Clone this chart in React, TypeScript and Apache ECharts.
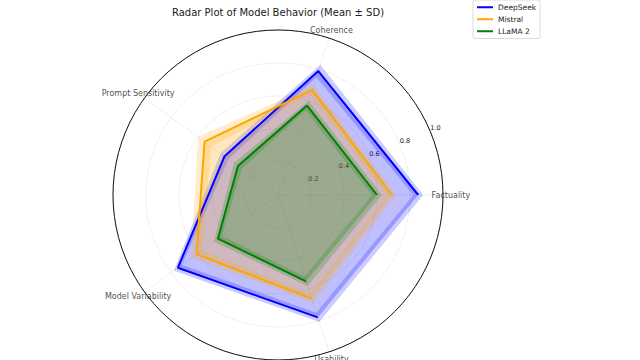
import React, { useEffect, useRef } from 'react';
import * as echarts from 'echarts';

const categories = ['Factuality', 'Coherence', 'Prompt Sensitivity', 'Model Variability', 'Usability'];
const modelNames = ['DeepSeek', 'Mistral', 'LLaMA 2'];
const deepseekMean = [0.85, 0.79, 0.40, 0.75, 0.78];
const deepseekSD = [0.03, 0.04, 0.03, 0.03, 0.03];
const mistralMean = [0.69, 0.67, 0.55, 0.61, 0.66];
const mistralSD = [0.03, 0.03, 0.05, 0.04, 0.03];
const llamaMean = [0.60, 0.57, 0.30, 0.45, 0.55];
const llamaSD = [0.03, 0.03, 0.03, 0.03, 0.03];
const radialTicks = [0.2, 0.4, 0.6, 0.8, 1.0];

const FONT = 'DejaVu Sans';
const colors = ['#0000ff', '#ffa500', '#008000'];
const rgb = ['0,0,255', '255,165,0', '0,128,0'];
const LABEL_R = 1.048;

export default function App() {
  const ref = useRef<HTMLDivElement>(null);
  useEffect(() => {
    if (!ref.current) return;
    const chart = echarts.init(ref.current, undefined, { renderer: 'svg' });
    const means = [deepseekMean, mistralMean, llamaMean];
    const sds = [deepseekSD, mistralSD, llamaSD];
    const series: any[] = [];
    means.forEach((mean, k) => {
      const sd = sds[k];
      series.push({
        type: 'custom', name: modelNames[k] + ' mean area', coordinateSystem: 'polar', polarIndex: 0,
        silent: true, z: 1, data: [[0, 0]],
        renderItem: (_p: any, api: any) => {
          const pts = mean.map((v, i) => api.coord([v, i]));
          return { type: 'polygon', shape: { points: pts }, style: { fill: `rgba(${rgb[k]},0.25)` } };
        },
      });
      series.push({
        type: 'custom', name: modelNames[k] + ' SD band', coordinateSystem: 'polar', polarIndex: 0,
        silent: true, z: 1, data: [[0, 0]],
        renderItem: (_p: any, api: any) => {
          const up = mean.map((v, i) => api.coord([v + sd[i], i]));
          const lo = mean.map((v, i) => api.coord([v - sd[i], i]));
          const pts = [...up, up[0], lo[0], ...lo.slice(1).reverse(), lo[0]];
          return { type: 'polygon', shape: { points: pts }, style: { fill: `rgba(${rgb[k]},0.2)` } };
        },
      });
    });
    means.forEach((mean, k) => {
      series.push({
        type: 'line', name: modelNames[k], coordinateSystem: 'polar', polarIndex: 0,
        symbol: 'none', z: 3, color: colors[k],
        lineStyle: { color: colors[k], width: 2 },
        data: [...mean.map((v, i) => [v, i]), [mean[0], 0]],
      });
    });
    series.push({
      type: 'scatter', name: 'axis names', coordinateSystem: 'polar', polarIndex: 0,
      symbol: 'circle', symbolSize: 1, silent: true, clip: false, z: 5,
      itemStyle: { color: 'rgba(0,0,0,0)' },
      data: categories.map((c, i) => ({ name: c, value: [LABEL_R, i] })),
      label: {
        show: true, position: 'inside', formatter: '{b}', color: '#1a1a1a',
        fontSize: 8, fontFamily: FONT, align: 'center', verticalAlign: 'middle',
      },
    });

    const gridLine = { color: '#cfcfcf', width: 0.8, type: [1, 1.5] };

    chart.setOption({
      animation: false,
      backgroundColor: '#fff',
      title: {
        text: 'Radar Plot of Model Behavior (Mean ± SD)',
        left: 278, top: 7, textAlign: 'center', padding: 0,
        textStyle: { fontSize: 10, fontWeight: 'normal', color: '#1a1a1a', fontFamily: FONT },
      },
      legend: {
        data: modelNames, orient: 'vertical', left: 473, top: 0,
        padding: [3, 4, 3, 4], itemGap: 3.5, itemWidth: 16, itemHeight: 2,
        icon: 'rect', backgroundColor: '#fff', borderColor: '#d0d0d0', borderWidth: 0.8, borderRadius: 2,
        textStyle: { fontSize: 7.5, color: '#1a1a1a', fontFamily: FONT, lineHeight: 8.5 },
      },
      polar: [
        { center: [278, 195], radius: 165 },
        { center: [278, 195], radius: 165 },
      ],
      angleAxis: [
        {
          polarIndex: 0, type: 'category', data: categories, startAngle: 0, clockwise: false,
          boundaryGap: false,
          axisLine: { show: false },
          axisTick: { show: false }, axisLabel: { show: false },
          splitLine: { show: true, lineStyle: gridLine },
        },
        {
          polarIndex: 1, type: 'value', min: 0, max: 360, startAngle: 22.5, clockwise: false,
          axisLine: { show: true, lineStyle: { color: '#111', width: 1 } },
          axisTick: { show: false }, axisLabel: { show: false },
          splitLine: { show: false },
        },
      ],
      radiusAxis: [
        {
          polarIndex: 0, type: 'value', min: 0, max: 1, interval: 0.2,
          axisLine: { show: false }, axisTick: { show: false }, axisLabel: { show: false },
          splitLine: { show: false },
        },
        {
          polarIndex: 1, type: 'value', min: 0, max: 1, interval: 0.2,
          axisLine: { show: false }, axisTick: { show: false },
          splitLine: { show: true, lineStyle: gridLine },
          axisLabel: {
            show: true, showMinLabel: false, margin: 0, align: 'center', verticalAlign: 'bottom',
            padding: [0, 0, 0, 10], fontSize: 6.5, color: '#1a1a1a', fontFamily: FONT,
            formatter: (v: number) => (radialTicks.some((t) => Math.abs(t - v) < 1e-6) ? v.toFixed(1) : ''),
          },
        },
      ],
      series,
    });
    return () => chart.dispose();
  }, []);
  return <div ref={ref} style={{ position: 'absolute', left: 0, top: 0, width: 640, height: 360 }} />;
}
